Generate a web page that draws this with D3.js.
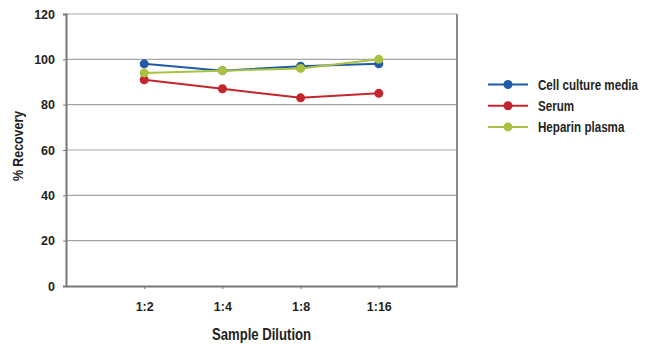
<!DOCTYPE html>
<html><head><meta charset="utf-8">
<script src="https://cdn.jsdelivr.net/npm/d3@7"></script>
<style>
body{margin:0;background:#fff;}
text{font-family:"Liberation Sans",Arial,sans-serif;font-weight:bold;fill:#231f20;}
</style></head><body>
<svg id="c" width="650" height="355"></svg>
<script>
const categories = ["1:2","1:4","1:8","1:16"];
const cellCulture = [98,95,97,98];
const serum = [91,87,83,85];
const heparin = [94,95,96,100];
const yTicks = [0,20,40,60,80,100,120];
const seriesNames = ["Cell culture media","Serum","Heparin plasma"];
const seriesColors = ["#1f5ba6","#c1272d","#a9c23f"];
const seriesData = [cellCulture, serum, heparin];

const svg = d3.select("#c");
const L=66,R=457,T=14,B=286;
const x = d3.scaleLinear().domain([0,categories.length+1]).range([L,R]);
const y = d3.scaleLinear().domain([0,120]).range([B,T]);

svg.append("g").selectAll("line").data(yTicks.filter(d=>d>0)).join("line")
  .attr("x1",L).attr("x2",R).attr("y1",d=>y(d)).attr("y2",d=>y(d))
  .attr("stroke","#a6a6a6").attr("stroke-width",1.2);
svg.append("line").attr("x1",R).attr("x2",R).attr("y1",T).attr("y2",B)
  .attr("stroke","#8c8c8c").attr("stroke-width",2);

const ya = svg.append("g").attr("transform",`translate(${L},0)`)
  .call(d3.axisLeft(y).tickValues(yTicks).tickSize(3).tickPadding(8));
ya.select(".domain").attr("stroke","#777").attr("stroke-width",2);
ya.selectAll(".tick line").attr("stroke","#777");
ya.selectAll("text").attr("font-size",12.5).attr("font-family",null);

const xa = svg.append("g").attr("transform",`translate(0,${B})`)
  .call(d3.axisBottom(x).tickValues(categories.map((c,i)=>i+1)).tickFormat((d)=>categories[d-1]).tickSize(3).tickPadding(13).tickSizeOuter(0));
xa.select(".domain").attr("stroke","#777").attr("stroke-width",2);
xa.selectAll(".tick line").attr("stroke","#777");
xa.selectAll("text").attr("font-size",12.5).attr("font-family",null);

const line = d3.line().x((d,i)=>x(i+1)).y(d=>y(d));
seriesData.forEach((s,k)=>{
  svg.append("path").datum(s).attr("d",line).attr("fill","none")
    .attr("stroke",seriesColors[k]).attr("stroke-width",2);
  svg.append("g").selectAll("circle").data(s).join("circle")
    .attr("cx",(d,i)=>x(i+1)).attr("cy",d=>y(d)).attr("r",4.5)
    .attr("fill",seriesColors[k]);
});

svg.append("text").attr("transform",`translate(23,146) rotate(-90) scale(0.8,1)`)
  .attr("text-anchor","middle").attr("font-size",15.5).text("% Recovery");
svg.append("text").attr("transform",`translate(261.5,340) scale(0.82,1)`)
  .attr("text-anchor","middle").attr("font-size",16).text("Sample Dilution");

const lg = svg.append("g");
seriesNames.forEach((n,k)=>{
  const yy = 84.5 + k*21.2;
  lg.append("line").attr("x1",488).attr("x2",528).attr("y1",yy).attr("y2",yy)
    .attr("stroke",seriesColors[k]).attr("stroke-width",2);
  lg.append("circle").attr("cx",508).attr("cy",yy).attr("r",4.5).attr("fill",seriesColors[k]);
  lg.append("text").attr("transform",`translate(538,${yy+5}) scale(0.8,1)`).attr("font-size",14.5).text(n);
});
</script></body></html>
